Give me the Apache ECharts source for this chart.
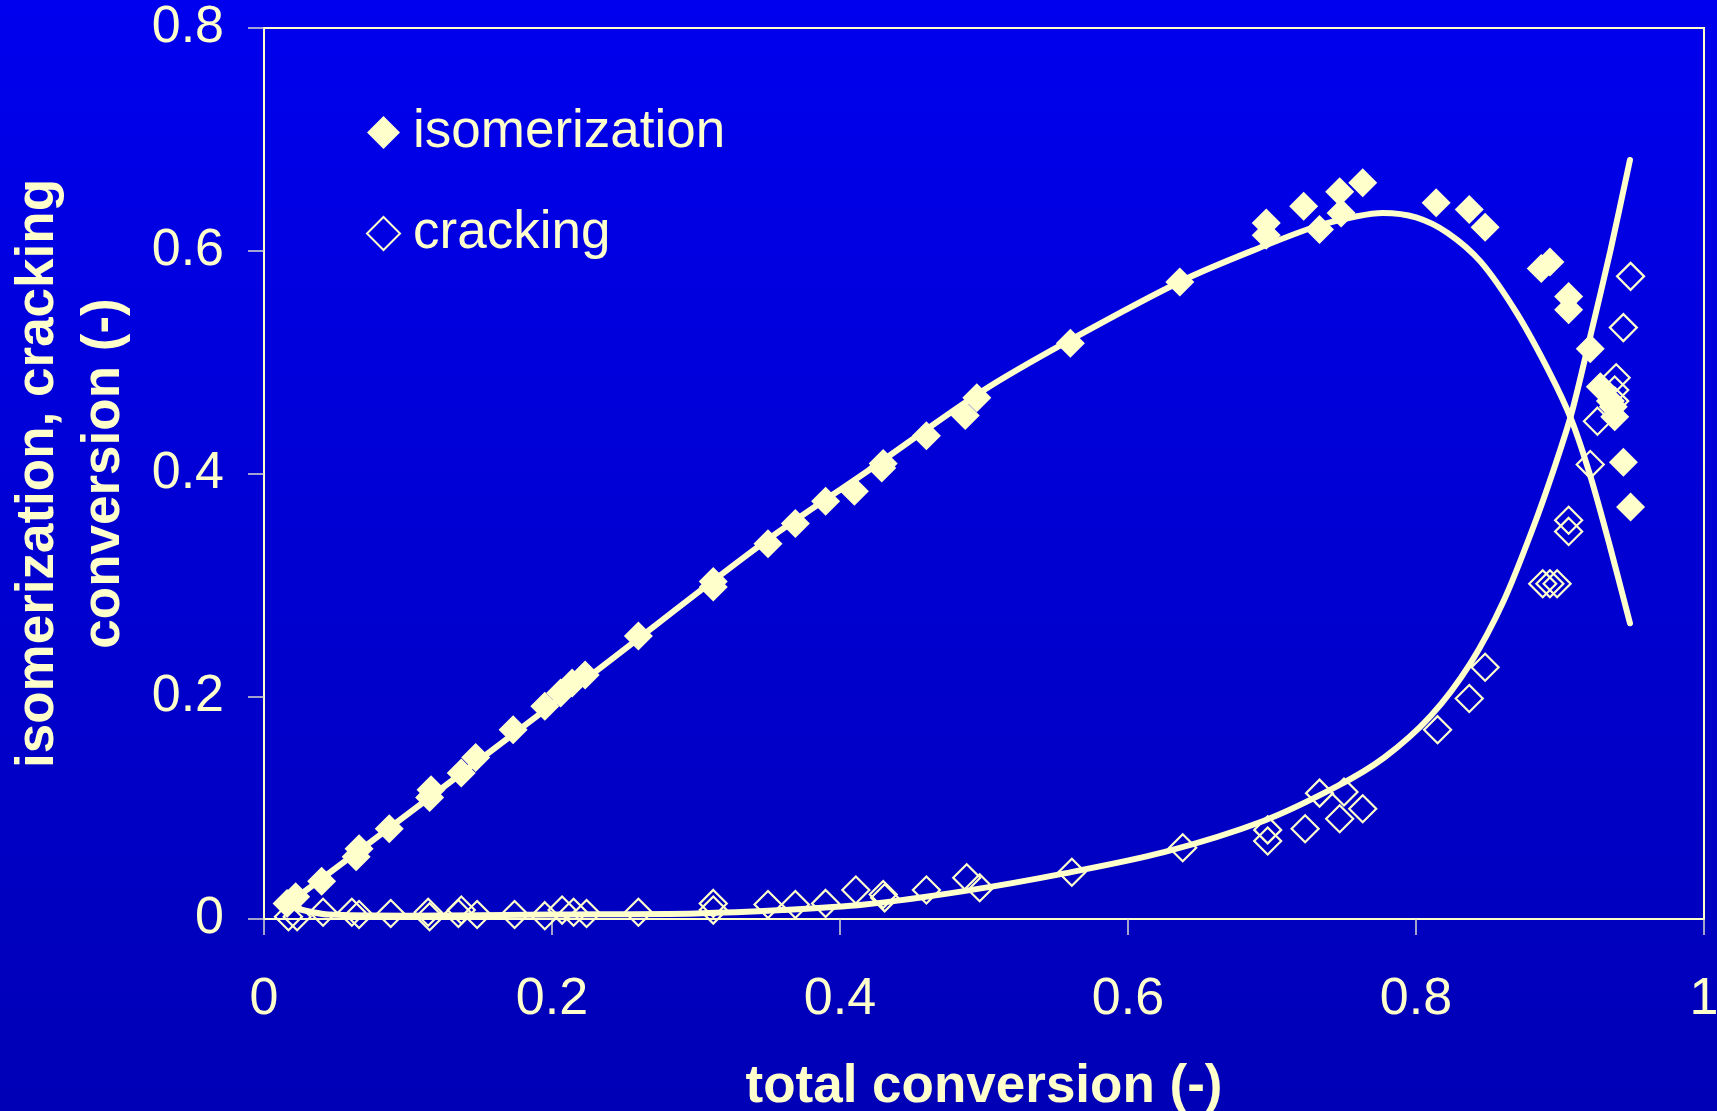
<!DOCTYPE html>
<html>
<head>
<meta charset="utf-8">
<script src="https://cdn.jsdelivr.net/npm/echarts@6/dist/echarts.min.js"></script>
<style>
  html, body { margin: 0; padding: 0; background: #0000D0; }
  #chart { width: 1717px; height: 1111px; }
</style>
</head>
<body>
<div id="chart"></div>
<script>
// ---- data ----
const isoPoints = [
  [0.016,0.014],[0.022,0.020],[0.040,0.034],[0.064,0.056],[0.066,0.063],[0.087,0.081],
  [0.115,0.109],[0.116,0.116],[0.137,0.131],[0.147,0.145],[0.173,0.170],[0.195,0.191],
  [0.206,0.203],[0.214,0.212],[0.223,0.219],[0.260,0.254],[0.312,0.298],[0.312,0.303],
  [0.350,0.337],[0.369,0.355],[0.390,0.375],[0.410,0.384],[0.429,0.405],[0.430,0.409],
  [0.460,0.434],[0.487,0.452],[0.495,0.468],[0.560,0.517],[0.636,0.572],[0.696,0.625],
  [0.696,0.614],[0.722,0.640],[0.733,0.619],[0.747,0.653],[0.748,0.634],[0.763,0.661],
  [0.814,0.643],[0.837,0.637],[0.848,0.621],[0.887,0.584],[0.893,0.590],[0.906,0.559],
  [0.906,0.547],[0.921,0.512],[0.928,0.478],[0.935,0.465],[0.937,0.460],[0.938,0.451],
  [0.944,0.410],[0.949,0.370]
];
const crackPoints = [
  [0.017,0.002],[0.023,0.002],[0.041,0.006],[0.061,0.006],[0.066,0.004],[0.088,0.005],
  [0.114,0.006],[0.115,0.002],[0.135,0.005],[0.137,0.008],[0.148,0.004],[0.174,0.004],
  [0.195,0.003],[0.207,0.008],[0.215,0.006],[0.224,0.005],[0.260,0.006],[0.312,0.014],
  [0.312,0.008],[0.350,0.013],[0.369,0.013],[0.390,0.014],[0.411,0.026],[0.430,0.022],
  [0.431,0.019],[0.460,0.026],[0.488,0.037],[0.497,0.028],[0.561,0.042],[0.638,0.064],
  [0.697,0.080],[0.697,0.070],[0.723,0.081],[0.733,0.113],[0.750,0.114],[0.747,0.090],
  [0.763,0.099],[0.815,0.170],[0.837,0.198],[0.848,0.226],[0.888,0.301],[0.893,0.301],
  [0.898,0.301],[0.906,0.358],[0.906,0.348],[0.921,0.408],[0.926,0.447],[0.938,0.475],
  [0.939,0.486],[0.938,0.465],[0.944,0.531],[0.949,0.577]
];
const isoFit = [
  [0.014,0.011],[0.116,0.110],[0.232,0.224],[0.347,0.338],[0.42,0.403],
  [0.5,0.475],[0.56,0.520],[0.639,0.574],[0.694,0.604],[0.731,0.622],[0.759,0.631],
  [0.777,0.634],[0.800,0.630],[0.822,0.616],[0.845,0.590],[0.870,0.544],[0.893,0.490],
  [0.908,0.448],[0.921,0.398],[0.935,0.333],[0.9486,0.2655]
];
const crackFit = [
  [0.018,0.011],[0.045,0.004],[0.1,0.003],[0.2,0.004],[0.3,0.005],
  [0.36,0.008],[0.417,0.013],[0.486,0.025],[0.556,0.041],[0.625,0.060],[0.694,0.088],
  [0.745,0.119],[0.778,0.145],[0.810,0.182],[0.838,0.230],[0.861,0.286],[0.8815,0.352],
  [0.896,0.405],[0.908,0.454],[0.921,0.523],[0.935,0.600],[0.9486,0.6815]
];
const seriesNames = ['isomerization', 'cracking'];
const xTitle = 'total conversion (-)';
const yTitle = 'isomerization, cracking\nconversion (-)';

// ---- styling ----
const FG = '#FFFFCC';
const FONT = '"Liberation Sans", Arial, Helvetica, sans-serif';

const chart = echarts.init(document.getElementById('chart'), null, { renderer: 'canvas' });
chart.setOption({
  backgroundColor: {
    type: 'linear', x: 0, y: 0, x2: 0, y2: 1,
    colorStops: [{ offset: 0, color: '#0000EE' }, { offset: 1, color: '#0000B6' }]
  },
  animation: false,
  textStyle: { fontFamily: FONT, color: FG },
  grid: {
    left: 264, right: 13, top: 28, bottom: 192,
    outerBoundsMode: 'none', containLabel: false,
    show: true, borderColor: FG, borderWidth: 2, backgroundColor: 'transparent'
  },
  legend: {
    data: seriesNames,
    orient: 'vertical',
    left: 366, top: 106, padding: 0,
    itemWidth: 33, itemHeight: 33, itemGap: 48,
    textStyle: { color: FG, fontSize: 53, fontFamily: FONT, lineHeight: 50, padding: [0, 0, 0, 8] },
    inactiveColor: FG
  },
  xAxis: {
    type: 'value', min: 0, max: 1, interval: 0.2,
    name: xTitle, nameLocation: 'middle', nameGap: 142,
    nameTextStyle: { color: FG, fontSize: 53, fontWeight: 'bold', fontFamily: FONT },
    axisLine: { show: true, lineStyle: { color: FG, width: 2 } },
    axisTick: { show: true, inside: false, length: 16, lineStyle: { color: '#D8D8D0', width: 1.5 } },
    axisLabel: { color: FG, fontSize: 52, margin: 55, fontFamily: FONT },
    splitLine: { show: false }
  },
  yAxis: {
    type: 'value', min: 0, max: 0.8, interval: 0.2,
    name: yTitle, nameLocation: 'middle', nameGap: 127, nameRotate: 90,
    nameTextStyle: { color: FG, fontSize: 53, fontWeight: 'bold', fontFamily: FONT, lineHeight: 66, align: 'center' },
    axisLine: { show: true, lineStyle: { color: FG, width: 2 } },
    axisTick: { show: true, inside: false, length: 16, lineStyle: { color: '#D8D8D0', width: 1.5 } },
    axisLabel: { color: FG, fontSize: 52, margin: 40, fontFamily: FONT },
    splitLine: { show: false }
  },
  series: [
    {
      name: 'isoFit', type: 'line', data: isoFit, showSymbol: false, symbol: 'none',
      smooth: 0.3, z: 2,
      lineStyle: { color: FG, width: 6, cap: 'round' }
    },
    {
      name: 'crackFit', type: 'line', data: crackFit, showSymbol: false, symbol: 'none',
      smooth: 0.3, z: 2,
      lineStyle: { color: FG, width: 6, cap: 'round' }
    },
    {
      name: seriesNames[0], type: 'scatter', data: isoPoints,
      symbol: 'diamond', symbolSize: 29, z: 3,
      itemStyle: { color: FG, opacity: 1 }
    },
    {
      name: seriesNames[1], type: 'scatter', data: crackPoints,
      symbol: 'diamond', symbolSize: 27, z: 3,
      itemStyle: { color: 'rgba(0,0,0,0)', borderColor: FG, borderWidth: 2.2, opacity: 1 }
    }
  ]
});
</script>
</body>
</html>
